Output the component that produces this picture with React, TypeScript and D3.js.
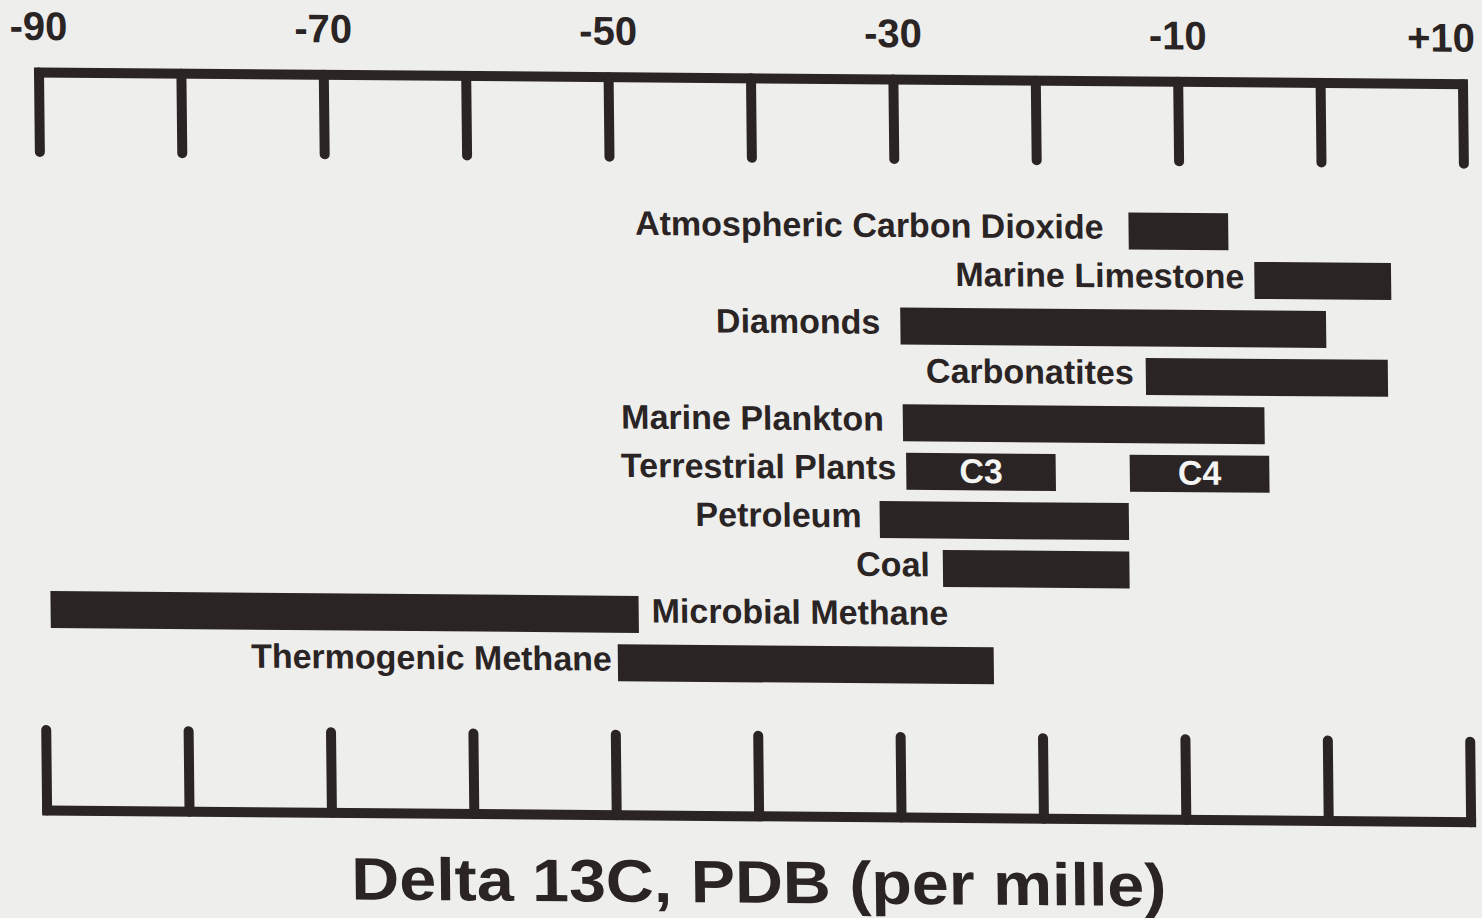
import React from "react";
import * as d3 from "d3";

// ---- data ----
const categories = [
  "Atmospheric Carbon Dioxide",
  "Marine Limestone",
  "Diamonds",
  "Carbonatites",
  "Marine Plankton",
  "Terrestrial Plants",
  "Petroleum",
  "Coal",
  "Microbial Methane",
  "Thermogenic Methane",
];

// one entry per drawn bar (Terrestrial Plants has two: C3 and C4)
const segCategory = [
  "Atmospheric Carbon Dioxide",
  "Marine Limestone",
  "Diamonds",
  "Carbonatites",
  "Marine Plankton",
  "Terrestrial Plants",
  "Terrestrial Plants",
  "Petroleum",
  "Coal",
  "Microbial Methane",
  "Thermogenic Methane",
];
const segStart = [-13.6, -4.8, -29.7, -12.5, -29.6, -29.4, -13.7, -31.3, -26.9, -89.6, -49.8];
const segEnd = [-6.6, 4.8, 0.2, 4.5, -4.2, -18.9, -3.9, -13.8, -13.8, -48.3, -23.4];
const segTag = ["", "", "", "", "", "C3", "C4", "", "", "", ""];

const tickValues = [-90, -80, -70, -60, -50, -40, -30, -20, -10, 0, 10];
const tickLabelValues = [-90, -70, -50, -30, -10, 10];
const tickLabelText = ["-90", "-70", "-50", "-30", "-10", "+10"];
const axisTitle = "Delta 13C, PDB (per mille)";

// ---- layout / style ----
const labelGap = [25, 10, 20, 12, 19, 10, 18, 13, 13, 6];
const labelOnRight = ["Microbial Methane"];
const INK = "#2a2424";
const BG = "#eeeeec";
const FONT = "'Liberation Sans', Arial, Helvetica, sans-serif";

export default function App() {
  const W = 1482;
  const H = 918;
  const x = d3.scaleLinear().domain([-90, 10]).range([39, 1463]);
  const y = d3.scalePoint<string>().domain(categories).range([222, 658]);
  const barH = 37;
  const topY = 72.5;
  const topTickEnd = 152;
  const botY = 810.5;
  const botTickStart = 730;
  const sw = 10;

  // slight scan skew of the original
  const b = 0.0082;
  const c = 0.011;
  const skew = `matrix(1,${b},${c},1,${-c * topY},${-b * 39})`;

  const firstStart: Record<string, number> = {};
  const lastEnd: Record<string, number> = {};
  segCategory.forEach((cat, i) => {
    firstStart[cat] = Math.min(firstStart[cat] ?? Infinity, segStart[i]);
    lastEnd[cat] = Math.max(lastEnd[cat] ?? -Infinity, segEnd[i]);
  });

  return (
    <div style={{ position: "fixed", left: 0, top: 0, width: W, height: H, background: BG }}>
      <svg width={W} height={H} style={{ display: "block" }}>
        <rect x={0} y={0} width={W} height={H} fill={BG} />
        <g transform={skew} fontFamily={FONT} fontWeight="bold" fill={INK}>
          {/* top axis */}
          <line x1={x(-90)} x2={x(10)} y1={topY} y2={topY} stroke={INK} strokeWidth={sw} strokeLinecap="square" />
          {tickValues.map((v) => (
            <line key={"tt" + v} x1={x(v)} x2={x(v)} y1={topY} y2={topTickEnd} stroke={INK} strokeWidth={sw} strokeLinecap="round" />
          ))}
          {tickLabelValues.map((v, i) => {
            const half = tickLabelText[i].length * 11.5;
            const cx = Math.min(x(v), W - 6 - half);
            return (
              <text key={"tl" + v} x={cx} y={40} fontSize={40} textAnchor="middle">
                {tickLabelText[i]}
              </text>
            );
          })}

          {/* bottom axis */}
          <line x1={x(-90)} x2={x(10)} y1={botY} y2={botY} stroke={INK} strokeWidth={sw} strokeLinecap="square" />
          {tickValues.map((v) => (
            <line key={"bt" + v} x1={x(v)} x2={x(v)} y1={botTickStart} y2={botY} stroke={INK} strokeWidth={sw} strokeLinecap="round" />
          ))}
          <text x={750} y={897} fontSize={60} textAnchor="middle" textLength={815} lengthAdjust="spacingAndGlyphs">
            {axisTitle}
          </text>

          {/* bars */}
          {segCategory.map((cat, i) => {
            const cy = y(cat) as number;
            const x0 = x(segStart[i]);
            const x1 = x(segEnd[i]);
            return (
              <g key={"bar" + i}>
                <rect x={x0} y={cy - barH / 2} width={x1 - x0} height={barH} fill={INK} />
                {segTag[i] && (
                  <text x={(x0 + x1) / 2} y={cy + 11} fontSize={34} textAnchor="middle" fill="#f4f4f2">
                    {segTag[i]}
                  </text>
                )}
              </g>
            );
          })}

          {/* category labels */}
          {categories.map((cat, i) => {
            const cy = y(cat) as number;
            const right = labelOnRight.includes(cat);
            const lx = right ? x(lastEnd[cat]) + labelGap[i] : x(firstStart[cat]) - labelGap[i];
            return (
              <text key={"lab" + cat} x={lx} y={cy + 8} fontSize={34} textAnchor={right ? "start" : "end"}>
                {cat}
              </text>
            );
          })}
        </g>
      </svg>
    </div>
  );
}
